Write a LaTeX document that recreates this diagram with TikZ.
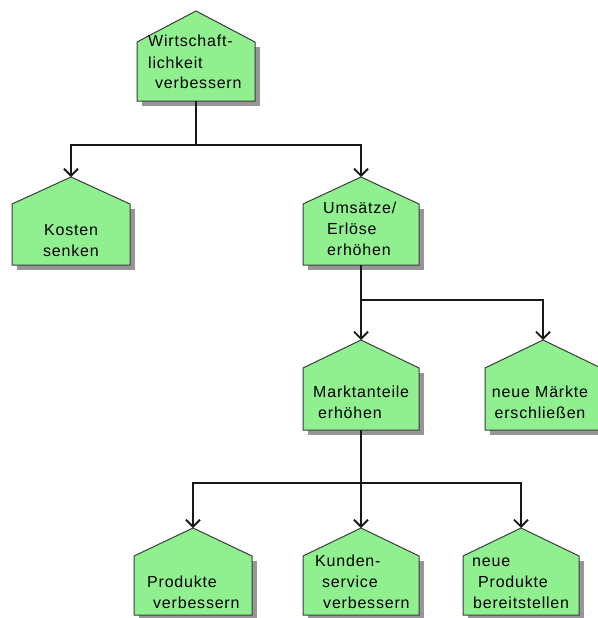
\documentclass[tikz,border=0pt]{standalone}
\usepackage{fontspec}
\setmainfont{Liberation Sans}[LetterSpace=5]
\usetikzlibrary{arrows.meta}

\definecolor{housefill}{RGB}{144,240,144}
\definecolor{houseline}{RGB}{60,60,60}
\definecolor{houseshadow}{RGB}{150,150,150}
\definecolor{linkcol}{RGB}{25,25,25}

\tikzset{
  houseshape/.style={fill=housefill, draw=houseline, line width=1pt, line join=miter},
  houseshade/.style={fill=houseshadow},
  housebody/.style={inner sep=0pt, outer sep=0pt},
  link/.style={draw=linkcol, line width=2.4pt, line join=miter},
  linkarrow/.style={link, -{Straight Barb[length=7pt,width=14pt,line width=1.8pt]}},
  caption/.style={inner sep=0pt, anchor=base west, font=\fontsize{16}{21}\selectfont},
  captionc/.style={inner sep=0pt, anchor=base, font=\fontsize{16}{21}\selectfont},
}

% house-shaped goal box: name, left, right, roof peak, shoulder, bottom
\newcommand\goalhouse[6]{%
  \fill[houseshade] (#2+5,#5+5) rectangle (#3+5,#6+5);
  \draw[houseshape] (#2,#5) -- ({(#2+#3)/2},#4) -- (#3,#5) -- (#3,#6) -- (#2,#6) -- cycle;
  \node[housebody, minimum width={#3-#2}, minimum height={#6-#5}]
    (#1) at ({(#2+#3)/2},{(#5+#6)/2}) {};
  \coordinate (#1-roof) at ({(#2+#3)/2},#4);
}

\begin{document}
\begin{tikzpicture}[x=1pt,y=-1pt]
\useasboundingbox (0,0) rectangle (597,618);

% goal boxes
\goalhouse{wirt}{137}{255}{11}{42}{101}
\goalhouse{kost}{12}{130}{177}{204}{265}
\goalhouse{ums}{303}{419}{177}{204}{265}
\goalhouse{markt}{303}{419}{340}{368}{430}
\goalhouse{maerkte}{485}{601}{340}{368}{430}
\goalhouse{prod}{134}{252}{528}{556}{615}
\goalhouse{kund}{303}{419}{528}{556}{615}
\goalhouse{neuprod}{463}{579}{528}{556}{615}

% captions
\node[caption] (wirt-t) at (148,47)
  {\begin{tabular}[t]{@{}l@{}}Wirtschaft-\\lichkeit\\\hspace*{7pt}verbessern\end{tabular}};
\node[captionc] (kost-t) at (71,235)
  {\begin{tabular}[t]{@{}c@{}}Kosten\\senken\end{tabular}};
\node[caption] (ums-t) at (323,213)
  {\begin{tabular}[t]{@{}l@{}}Umsätze/\\\hspace*{4pt}Erlöse\\\hspace*{4pt}erhöhen\end{tabular}};
\node[caption] (markt-t) at (313,397)
  {\begin{tabular}[t]{@{}l@{}}Marktanteile\\\hspace*{5pt}erhöhen\end{tabular}};
\node[captionc] (maerkte-t) at (540,397)
  {\begin{tabular}[t]{@{}c@{}}neue Märkte\\erschließen\end{tabular}};
\node[caption] (prod-t) at (147,587)
  {\begin{tabular}[t]{@{}l@{}}Produkte\\\hspace*{6pt}verbessern\end{tabular}};
\node[caption] (kund-t) at (315,566)
  {\begin{tabular}[t]{@{}l@{}}Kunden-\\\hspace*{7pt}service\\\hspace*{8pt}verbessern\end{tabular}};
\node[caption] (neuprod-t) at (472,566)
  {\begin{tabular}[t]{@{}l@{}}neue\\\hspace*{6pt}Produkte\\\hspace*{1pt}bereitstellen\end{tabular}};

% branch points
\coordinate (j1) at (196,145);
\coordinate (j2) at (361,300);
\coordinate (j3) at (361,483);

% connectors
\draw[link] (wirt.south) -- (j1);
\draw[linkarrow] (j1) -| (kost-roof);
\draw[linkarrow] (j1) -| (ums-roof);

\draw[link] (ums.south) -- (j2);
\draw[linkarrow] (j2) -- (markt-roof);
\draw[linkarrow] (j2) -| (maerkte-roof);

\draw[link] (markt.south) -- (j3);
\draw[linkarrow] (j3) -| (prod-roof);
\draw[linkarrow] (j3) -- (kund-roof);
\draw[linkarrow] (j3) -| (neuprod-roof);
\end{tikzpicture}
\end{document}
